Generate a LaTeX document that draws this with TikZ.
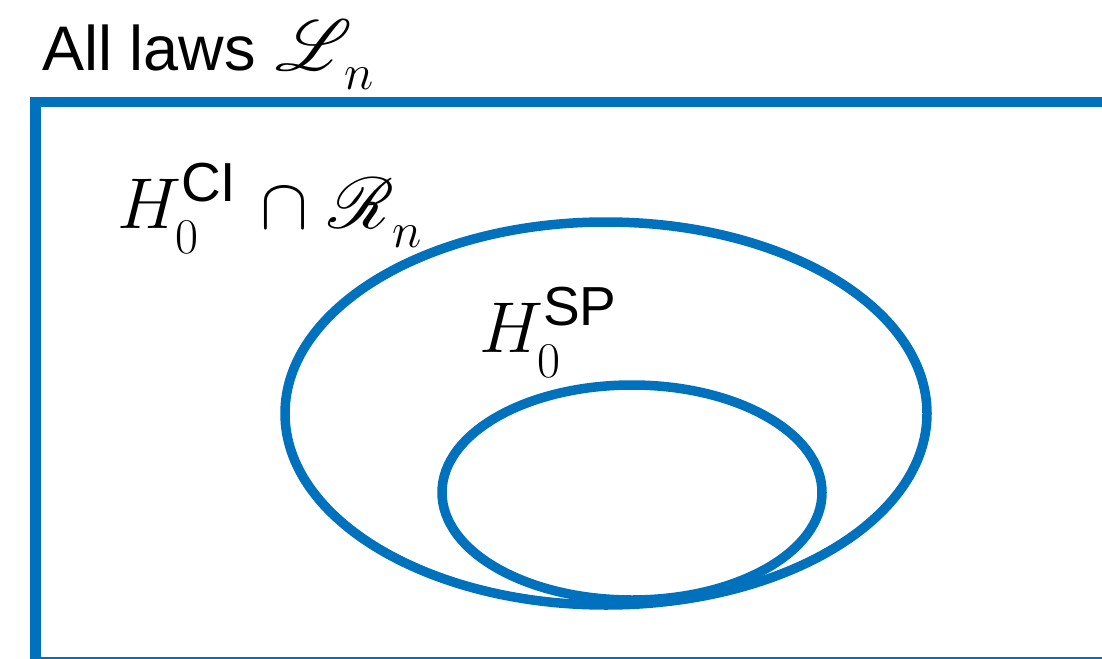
\documentclass[tikz,border=0pt]{standalone}
\usepackage{fix-cm}
\usepackage{amsmath}
\usepackage{mathrsfs}
\usepackage[no-math]{fontspec}
\setmainfont{Liberation Sans}
\usetikzlibrary{shapes.geometric}
\DeclareFontFamily{U}{rsfs}{\skewchar\font127 }
\DeclareFontShape{U}{rsfs}{m}{n}{<-6> rsfs5 <6-8> rsfs7 <8-> rsfs10}{}
\DeclareMathSizes{72}{72}{50}{36}
\definecolor{mblue}{HTML}{0072BD}
\newcommand\mfix{\fontdimen16\textfont2=19pt \fontdimen17\textfont2=25pt }
\newcommand\suptext[1]{\mbox{\fontsize{55}{55}\selectfont #1}}
\tikzset{
  setline/.style={draw=mblue, line width=9.5pt, shape=ellipse, inner sep=0pt, fill=none},
  boxline/.style={draw=mblue, line width=10.6pt},
  lbl/.style={anchor=base west, inner sep=0pt, font=\fontsize{72}{80}\selectfont},
}
\begin{document}
\begin{tikzpicture}[x=1pt,y=-1pt]
\useasboundingbox (0,0) rectangle (1102,658);
\clip (0,0) rectangle (1102,658);
\draw[boxline] (35.5,102) rectangle (1108,662.5);
\node[setline, minimum width=642pt, minimum height=383pt] (outer) at (606,413.5) {};
\node[setline, minimum width=380pt, minimum height=215pt] (inner) at (632,492.5) {};
\node[lbl] (title) at (42,70.7) {{\fontsize{63}{70}\selectfont All laws} $\mfix\mathscr{L}_{\mkern2mu n}$};
\node[lbl] (hci) at (117,228) {$\mfix H_0^{\suptext{CI}}\mkern2mu\cap\mkern1mu\mathscr{R}_{\mkern1mu n}$};
\node[lbl] (hsp) at (479,352) {$\mfix H_0^{\suptext{SP}}$};
\end{tikzpicture}
\end{document}
